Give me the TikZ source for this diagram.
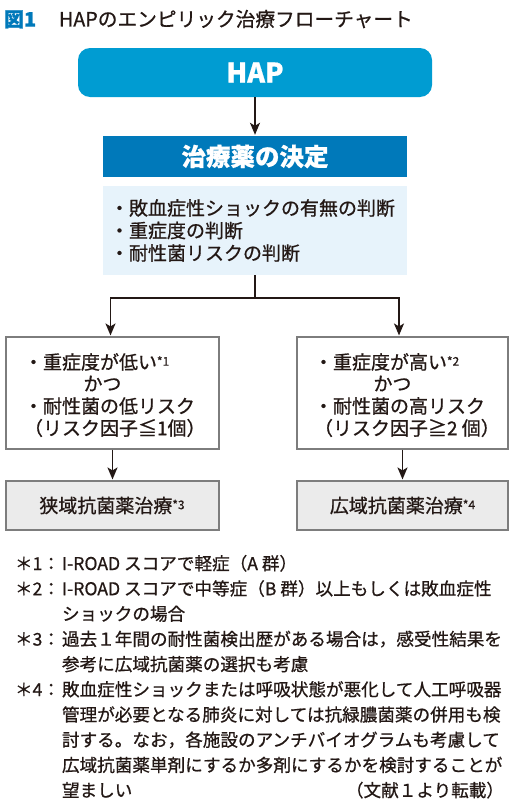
\documentclass[tikz,border=0pt]{standalone}
\usepackage{fontspec}
\setmainfont{Noto Sans CJK JP}[RawFeature={embolden=0.7}]
\usetikzlibrary{arrows.meta}
\definecolor{hapblue}{RGB}{0,156,210}
\definecolor{decblue}{RGB}{0,121,186}
\definecolor{lightblue}{RGB}{231,243,251}
\definecolor{boxgray}{RGB}{235,235,235}
\definecolor{bordergray}{RGB}{125,125,125}
\definecolor{ink}{RGB}{35,24,21}
\newcommand{\fsz}[1]{\fontsize{#1}{#1}\selectfont}
\newcommand{\supn}[1]{\raisebox{3.5pt}{\fsz{12}*#1}}
\begin{document}
\begin{tikzpicture}[x=1pt,y=-1pt,
  txt/.style={inner sep=0pt, outer sep=0pt, text=ink},
  boxtxt/.style={txt, font=\fsz{19}, text height=16.7pt, text depth=2.3pt},
  notetxt/.style={txt, font=\fsz{17.6}, text height=15.5pt, text depth=2.1pt, anchor=west},
  arr/.style={-{Stealth[length=12pt,width=10pt,inset=3pt]}, line width=1.6pt, draw=ink, shorten >=1pt},
  plain/.style={line width=1.6pt, draw=ink},
  hapbox/.style={fill=hapblue, rounded corners=12pt, inner sep=0pt, text=white, font=\fsz{27}\bfseries},
  decbox/.style={fill=decblue, inner sep=0pt, text=white, font=\fsz{24.5}\bfseries},
  lightbox/.style={fill=lightblue, inner sep=0pt},
  condbox/.style={draw=bordergray, line width=1.1pt, fill=white, inner sep=0pt},
  resbox/.style={draw=bordergray, line width=1.1pt, fill=boxgray, inner sep=0pt}]
\useasboundingbox[fill=white] (0,0) rectangle (523,803);

% title
\node[txt, anchor=west, text=decblue, font=\fsz{20}\bfseries, text height=17.6pt, text depth=2.4pt] (fig) at (4,19) {図1};
\node[txt, anchor=west, font=\fsz{19.7}, text height=17.3pt, text depth=2.4pt] (title) at (59,19) {HAPのエンピリック治療フローチャート};

% main boxes
\node[hapbox, minimum width=354pt, minimum height=49pt] (hap) at (255,72.5) {HAP};
\node[decbox, minimum width=304pt, minimum height=41pt] (dec) at (255,156.5) {治療薬の決定};
\node[lightbox, minimum width=304pt, minimum height=89pt] (light) at (255,230.5) {};
\node[boxtxt, anchor=west] (l1) at (110,208) {・敗血症性ショックの有無の判断};
\node[boxtxt, anchor=west] (l2) at (110,230.5) {・重症度の判断};
\node[boxtxt, anchor=west] (l3) at (110,253) {・耐性菌リスクの判断};

% condition boxes
\node[condbox, minimum width=213pt, minimum height=112pt] (lc) at (112.5,393) {};
\node[condbox, minimum width=211pt, minimum height=112pt] (rc) at (402.5,393) {};
\node[boxtxt, anchor=west] (lc1) at (24,362) {・重症度が低い\supn{1}};
\node[boxtxt] (lc2) at (102.5,383.5) {かつ};
\node[boxtxt, anchor=west] (lc3) at (24,406) {・耐性菌の低リスク};
\node[boxtxt, anchor=west] (lc4) at (24,428) {（リスク因子≦1個）};
\node[boxtxt, anchor=west] (rc1) at (314,362) {・重症度が高い\supn{2}};
\node[boxtxt] (rc2) at (392.5,383.5) {かつ};
\node[boxtxt, anchor=west] (rc3) at (314,406) {・耐性菌の高リスク};
\node[boxtxt, anchor=west] (rc4) at (314,428) {（リスク因子≧2 個）};

% result boxes
\node[resbox, minimum width=213pt, minimum height=49pt] (lr) at (112.5,505.5) {};
\node[resbox, minimum width=211pt, minimum height=49pt] (rr) at (402.5,505.5) {};
\node[boxtxt] (lrt) at (112,505.5) {狭域抗菌薬治療\supn{3}};
\node[boxtxt] (rrt) at (402.5,505.5) {広域抗菌薬治療\supn{4}};

% connectors
\draw[arr] (hap.south) -- (dec.north);
\coordinate (jc) at (255,298);
\coordinate (jl) at (110.5,298);
\coordinate (jr) at (399,298);
\draw[plain] (light.south) -- (jc);
\draw[plain, line cap=rect] (jl) -- (jr);
\draw[arr] (jl) -- (lc.north -| jl);
\draw[arr] (jr) -- (rc.north -| jr);
\draw[arr] (lc.south) -- (lr.north);
\draw[arr] (rc.south) -- (rr.north);

% footnotes
\node[notetxt] (n1l) at (15,563.3) {＊1：};
\node[notetxt] (n1a) at (62,563.3) {I-ROAD スコアで軽症（A 群）};
\node[notetxt] (n2l) at (15,588.5) {＊2：};
\node[notetxt] (n2a) at (62,588.5) {I-ROAD スコアで中等症（B 群）以上もしくは敗血症性};
\node[notetxt] (n2b) at (62,613.7) {ショックの場合};
\node[notetxt] (n3l) at (15,638.9) {＊3：};
\node[notetxt] (n3a) at (62,638.9) {過去１年間の耐性菌検出歴がある場合は，感受性結果を};
\node[notetxt] (n3b) at (62,664.1) {参考に広域抗菌薬の選択も考慮};
\node[notetxt] (n4l) at (15,689.3) {＊4：};
\node[notetxt] (n4a) at (62,689.3) {敗血症性ショックまたは呼吸状態が悪化して人工呼吸器};
\node[notetxt] (n4b) at (62,714.5) {管理が必要となる肺炎に対しては抗緑膿菌薬の併用も検};
\node[notetxt] (n4c) at (62,739.7) {討する。なお，各施設のアンチバイオグラムも考慮して};
\node[notetxt] (n4d) at (62,764.9) {広域抗菌薬単剤にするか多剤にするかを検討することが};
\node[notetxt] (n4e) at (62,790.1) {望ましい};
\node[notetxt, anchor=east] (src) at (504,790.1) {（文献１より転載）};
\end{tikzpicture}
\end{document}
